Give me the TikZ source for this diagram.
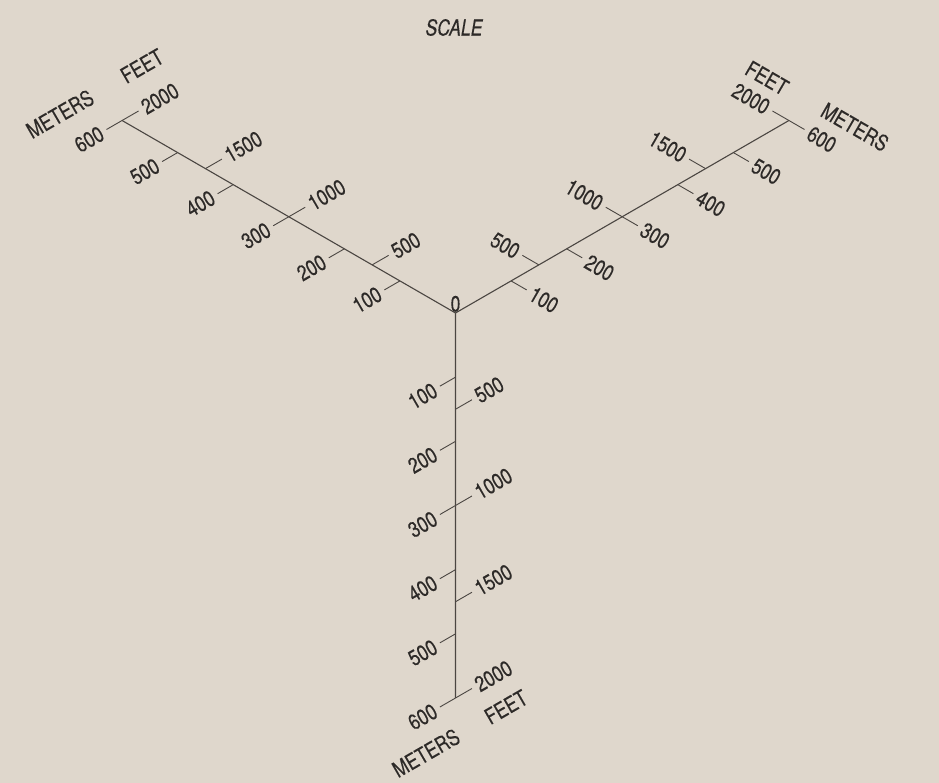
\documentclass[tikz,border=0pt]{standalone}
\usepackage{fontspec}
\setmainfont{TeX Gyre Heros}[FakeStretch=0.8, FakeBold=0.3]
\usetikzlibrary{calc}
\definecolor{paper}{RGB}{223,215,204}
\definecolor{ink}{RGB}{45,42,40}
\definecolor{lineink}{RGB}{75,70,66}
\begin{document}
\begin{tikzpicture}[x=1pt,y=1pt,
  axisline/.style={draw=lineink, line width=1.1pt},
  tickline/.style={draw=lineink, line width=0.9pt},
  lbl/.style={font=\fontsize{22}{22}\selectfont, text=ink, inner sep=5pt},
  hdr/.style={font=\fontsize{22}{22}\selectfont, text=ink, inner sep=0pt}]
\fill[paper] (0,-783) rectangle (939,0);
\useasboundingbox (0,-783) rectangle (939,0);
\coordinate (O) at (455.5,-313);
\coordinate (Vend) at ($(O)+(-90:385)$);
\coordinate (Lend) at ($(O)+(150:385)$);
\coordinate (Rend) at ($(O)+(30:385)$);
\draw[axisline] (Vend) -- (O) -- (Lend);
\draw[axisline] (O) -- (Rend);
% vertical axis
\foreach \m [count=\i] in {100,200,300,400,500,600} {
  \coordinate (vm\i) at ($(O)+(-90:{\i*385/6})$);
  \coordinate (vmt\i) at ($(vm\i)+(210:18)$);
  \draw[tickline] (vm\i) -- (vmt\i);
  \node[lbl, rotate=30, anchor=east] (vml\i) at (vmt\i) {\m};
}
\foreach \f [count=\j] in {500,1000,1500,2000} {
  \coordinate (vf\j) at ($(O)+(-90:{\j*385/4})$);
  \coordinate (vft\j) at ($(vf\j)+(30:19)$);
  \draw[tickline] (vf\j) -- (vft\j);
  \node[lbl, rotate=30, anchor=west] (vfl\j) at (vft\j) {\f};
}
% left axis
\foreach \m [count=\i] in {100,200,300,400,500,600} {
  \coordinate (lm\i) at ($(O)+(150:{\i*385/6})$);
  \coordinate (lmt\i) at ($(lm\i)+(210:18)$);
  \draw[tickline] (lm\i) -- (lmt\i);
  \node[lbl, rotate=30, anchor=east] (lml\i) at (lmt\i) {\m};
}
\foreach \f [count=\j] in {500,1000,1500,2000} {
  \coordinate (lf\j) at ($(O)+(150:{\j*385/4})$);
  \coordinate (lft\j) at ($(lf\j)+(30:19)$);
  \draw[tickline] (lf\j) -- (lft\j);
  \node[lbl, rotate=30, anchor=west] (lfl\j) at (lft\j) {\f};
}
% right axis
\foreach \m [count=\i] in {100,200,300,400,500,600} {
  \coordinate (rm\i) at ($(O)+(30:{\i*385/6})$);
  \coordinate (rmt\i) at ($(rm\i)+(-30:18)$);
  \draw[tickline] (rm\i) -- (rmt\i);
  \node[lbl, rotate=-30, anchor=west] (rml\i) at (rmt\i) {\m};
}
\foreach \f [count=\j] in {500,1000,1500,2000} {
  \coordinate (rf\j) at ($(O)+(30:{\j*385/4})$);
  \coordinate (rft\j) at ($(rf\j)+(150:19)$);
  \draw[tickline] (rf\j) -- (rft\j);
  \node[lbl, rotate=-30, anchor=east] (rfl\j) at (rft\j) {\f};
}
\node[lbl, anchor=south, inner sep=1pt] (zero) at (O) {0};
% headers
\node[hdr, rotate=30] (lmeters) at (60,-114) {METERS};
\node[hdr, rotate=30] (lfeet) at (142,-66) {FEET};
\node[hdr, rotate=-30] (rfeet) at (767,-78) {FEET};
\node[hdr, rotate=-30] (rmeters) at (855,-127) {METERS};
\node[hdr, rotate=30] (bmeters) at (426,-753) {METERS};
\node[hdr, rotate=30] (bfeet) at (506,-707) {FEET};
\node[hdr, font=\fontsize{22}{22}\selectfont\itshape] (title) at (454,-27.5) {SCALE};
\end{tikzpicture}
\end{document}
